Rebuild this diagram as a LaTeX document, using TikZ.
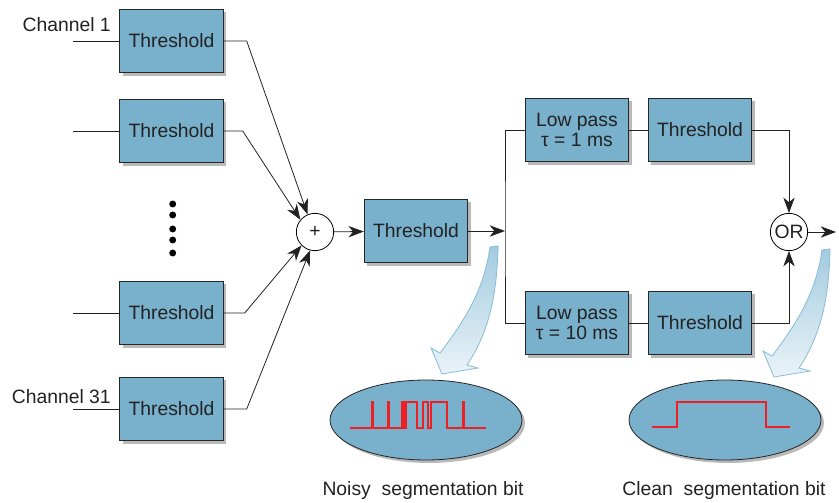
\documentclass[tikz,border=0pt]{standalone}
\usepackage{fontspec}
\setmainfont{Liberation Sans}
\usetikzlibrary{shapes.geometric,shadows,arrows.meta}
\definecolor{boxblue}{HTML}{79B0CB}
\definecolor{wavered}{HTML}{EE2024}
\definecolor{arrowedge}{HTML}{86BCD6}
\definecolor{arrowtop}{HTML}{A3CBE0}
\definecolor{arrowbot}{HTML}{EAF3F8}
\definecolor{inkgray}{HTML}{222222}
\begin{document}
\begin{tikzpicture}[x=0.75pt,y=-0.75pt,
  font=\fontsize{14.5}{15}\selectfont, text=inkgray,
  blockbox/.style={draw=black!85, fill=boxblue, line width=0.8pt,
    minimum width=77.5pt, minimum height=47.5pt, inner sep=0pt, align=center,
    drop shadow={shadow xshift=2.2pt, shadow yshift=-2.2pt, fill=black!55}},
  opcirc/.style={circle, draw, fill=white, line width=0.6pt, minimum size=28pt, inner sep=0pt},
  blob/.style={ellipse, draw=black!85, fill=boxblue, line width=0.6pt,
    minimum width=144pt, minimum height=60pt, inner sep=0pt,
    drop shadow={shadow xshift=2.2pt, shadow yshift=-2.2pt, fill=black!55}},
  conn/.style={line width=0.6pt, draw=inkgray},
  arr/.style={line width=0.6pt, draw=inkgray, -{Stealth[length=11.5pt, width=8.5pt, inset=3.5pt]}},
  wave/.style={wavered, line width=2.1pt, line join=miter},
  bigarrow/.style={draw=arrowedge, line width=0.6pt, top color=arrowtop, bottom color=arrowbot},
  dot/.style={circle, fill=black, inner sep=0pt, minimum size=5.2pt}
]
\useasboundingbox (0,0) rectangle (839,503);

% left threshold boxes
\node[blockbox] (t1) at (171.5,41) {Threshold};
\node[blockbox] (t2) at (171.5,131) {Threshold};
\node[blockbox] (t3) at (171.5,313) {Threshold};
\node[blockbox] (t4) at (171.5,409) {Threshold};

\node[anchor=base east, inner sep=0pt] (ch1) at (111,32) {Channel 1};
\node[anchor=base east, inner sep=0pt] (ch31) at (111,403) {Channel 31};

\draw[conn] (t1.west) -- ++(-46,0) coordinate (in1);
\draw[conn] (t2.west) -- ++(-46,0) coordinate (in2);
\draw[conn] (t3.west) -- ++(-46,0) coordinate (in3);
\draw[conn] (t4.west) -- ++(-46,0) coordinate (in4);

% dots
\node[dot] (d1) at (172.7,204) {};
\node[dot] (d2) at (172.7,215) {};
\node[dot] (d3) at (172.7,229) {};
\node[dot] (d4) at (172.7,240) {};
\node[dot] (d5) at (172.7,253) {};

% sum
\node[opcirc] (plus) at (315,232) {+};
\draw[arr] (t1.east) -- ++(23,0) -- (plus.113);
\draw[arr] (t2.east) -- ++(19,0) -- (plus.140);
\draw[arr] (t3.east) -- ++(21,0) -- (plus.225);
\draw[arr] (t4.east) -- ++(23,0) -- (plus.255);

\node[blockbox] (tm) at (416,231) {Threshold};
\draw[arr] (plus) -- (tm);

% branches
\node[blockbox] (lp1) at (577,130) {Low pass\\τ = 1 ms};
\node[blockbox] (lp2) at (577,323) {Low pass\\τ = 10 ms};
\node[blockbox] (th1) at (700,130) {Threshold};
\node[blockbox] (th2) at (700,323) {Threshold};
\coordinate (br) at (505,231);
\draw[conn] (lp1.west) -| (br) |- (lp2.west);
\draw[arr] (tm.east) -- (br);
\draw[conn] (lp1) -- (th1);
\draw[conn] (lp2) -- (th2);

\node[opcirc] (or) at (789,232) {OR};
\draw[arr] (th1.east) -| (or.north);
\draw[arr] (th2.east) -| (or.south);
\coordinate (out) at (836,232);
\draw[arr] (or.east) -- (out);

% big curved arrows
\path[bigarrow] (490,247) -- (498,246) .. controls (497,300) and (487,335) .. (467,365)
  -- (478,368) -- (442,374) -- (431,348) -- (440,353)
  .. controls (465,320) and (484,290) .. (490,247) -- cycle;
\begin{scope}[shift={(332,3)}]
\path[bigarrow] (490,247) -- (498,246) .. controls (497,300) and (487,335) .. (467,365)
  -- (478,368) -- (442,374) -- (431,348) -- (440,353)
  .. controls (465,320) and (484,290) .. (490,247) -- cycle;
\end{scope}

% ellipses with waveforms
\node[blob] (noisy) at (426,420) {};
\node[blob] (clean) at (725,420) {};
\draw[wave] (350,428) -- (372,428) -- (372,402) -- (373,402) -- (373,428) -- (388,428)
  -- (388,402) -- (389,402) -- (389,428) -- (402,428) -- (402,402) -- (404,402)
  -- (404,428) -- (406,428) -- (406,402) -- (417,402) -- (417,428) -- (423,428)
  -- (423,402) -- (428,402) -- (428,428) -- (431,428) -- (431,402) -- (447,402)
  -- (447,428) -- (463,428) -- (463,402) -- (464,402) -- (464,428) -- (486,428);
\draw[wave] (652,427) -- (677,427) -- (677,402) -- (766,402) -- (766,427) -- (790,427);

\node (noisylbl) at (423,490) {Noisy\ \ segmentation bit};
\node (cleanlbl) at (724,490) {Clean\ \ segmentation bit};
\end{tikzpicture}
\end{document}
